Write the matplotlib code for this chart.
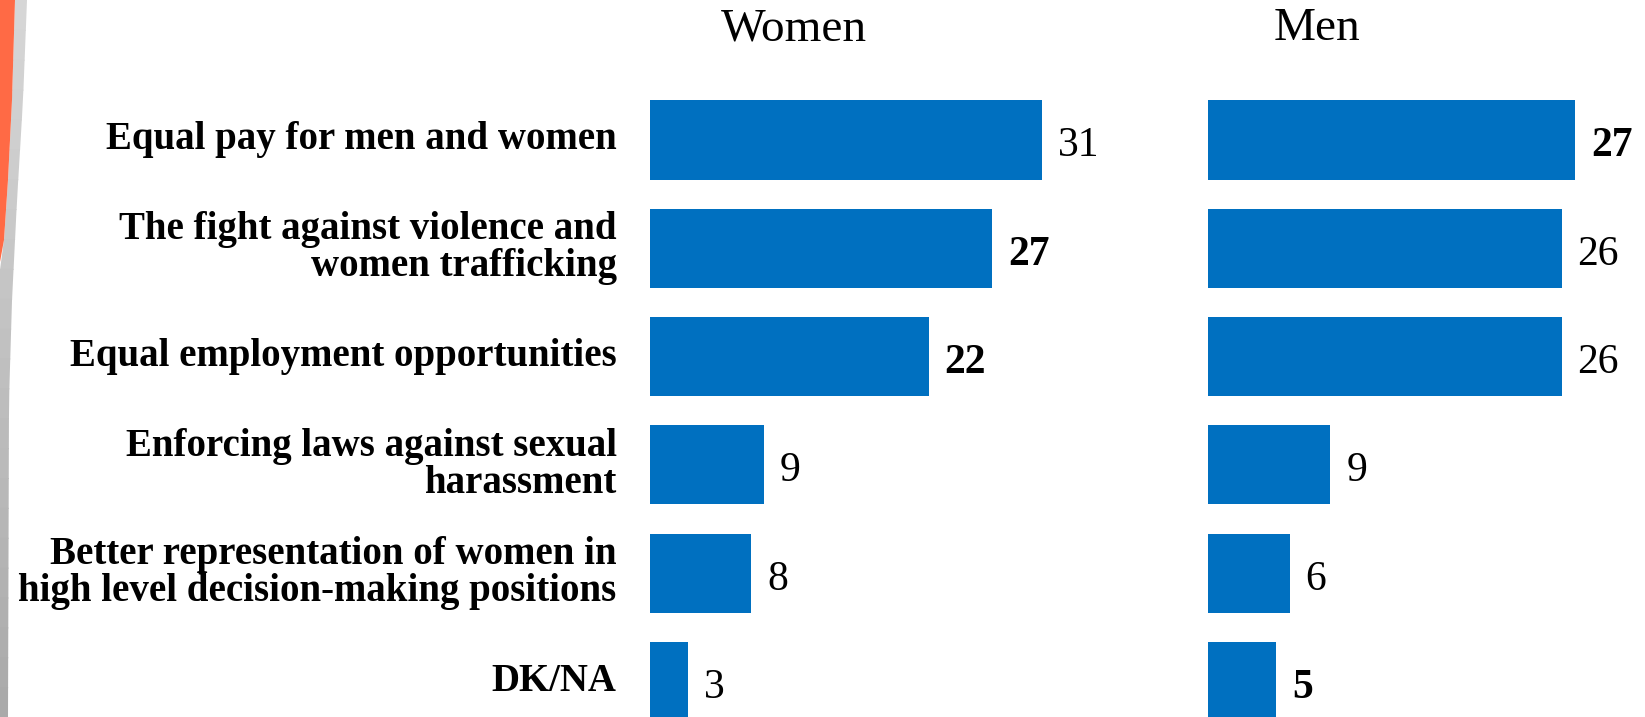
import numpy as np
import matplotlib.pyplot as plt
from matplotlib.patches import Polygon

# --- data ---
categories = [
    "Equal pay for men and women",
    "The fight against violence and\nwomen trafficking",
    "Equal employment opportunities",
    "Enforcing laws against sexual\nharassment",
    "Better representation of women in\nhigh level decision-making positions",
    "DK/NA",
]
women = [31, 27, 22, 9, 8, 3]
men = [27, 26, 26, 9, 6, 5]
panel_titles = ["Women", "Men"]

W, H = 1645, 717
BLUE = "#0070C0"
SERIF = ["Liberation Serif", "DejaVu Serif"]
# some value labels look heavier in the original rendering
heavy = {(0, 1), (0, 2), (1, 0), (1, 5)}

fig = plt.figure(figsize=(W / 100, H / 100), dpi=100)
fig.patch.set_facecolor("white")


def px_rect(x0, width):
    return [x0 / W, 0, width / W, 1]


# pixel layout: first row centre 140 px from top, rows 108.3 px apart
pitch = 108.3
ylim = ((H - 140) / pitch, -140 / pitch)

ax_w = fig.add_axes(px_rect(650, 12.66 * 35))
ax_m = fig.add_axes(px_rect(1208, 13.6 * 32))
ax_w.set_xlim(0, 35)
ax_m.set_xlim(0, 32)

rows = list(range(len(categories)))
for p, (ax, vals) in enumerate([(ax_w, women), (ax_m, men)]):
    ax.barh(rows, vals, height=0.73, color=BLUE)
    ax.set_ylim(*ylim)
    ax.axis("off")
    for i, v in zip(rows, vals):
        ax.annotate(str(v), xy=(v, i), xytext=(11.5, -4.5),
                    textcoords="offset points", ha="left", va="center",
                    fontsize=30, family=SERIF,
                    fontweight="bold" if (p, i) in heavy else "normal",
                    annotation_clip=False)

# category labels to the left of the women panel
for i, label in zip(rows, categories):
    ax_w.annotate(label, xy=(0, i), xytext=(-24, 0),
                  textcoords="offset points", ha="right", va="center",
                  fontsize=28, fontweight="bold", family=SERIF,
                  linespacing=1.0, multialignment="right",
                  annotation_clip=False)

# panel headers
fig.text(794 / W, 1 - 29 / H, panel_titles[0], ha="center", va="center",
         fontsize=34, family=SERIF)
fig.text(1317 / W, 1 - 29 / H, panel_titles[1], ha="center", va="center",
         fontsize=34, family=SERIF)


# decorative swoosh on the left edge
def px_poly(pts, color):
    xy = [(x / W, 1 - y / H) for x, y in pts]
    fig.add_artist(Polygon(xy, closed=True, transform=fig.transFigure,
                           facecolor=color, edgecolor="none"))


# grey stripe, drawn as bands that darken towards the bottom
ys = np.linspace(0, H, 25)
left_edge = np.interp(ys, [0, 100, 180, 240, 260, 360, H], [15, 12, 8, 4, 0, 0, 0])
right_edge = np.interp(ys, [0, 100, 200, 300, 400, H], [27, 23, 17, 12, 9, 8])
for k in range(len(ys) - 1):
    t = ys[k] / H
    g = 0.84 - 0.18 * t
    px_poly([(left_edge[k], ys[k]), (right_edge[k], ys[k]),
             (right_edge[k + 1], ys[k + 1] + 1), (left_edge[k + 1], ys[k + 1] + 1)],
            (g, g, g))

px_poly([(0, 0), (15, 0), (12, 100), (8, 180), (4, 240), (0, 262)], "#FF6A45")

fig.savefig("out.png", dpi=100)
